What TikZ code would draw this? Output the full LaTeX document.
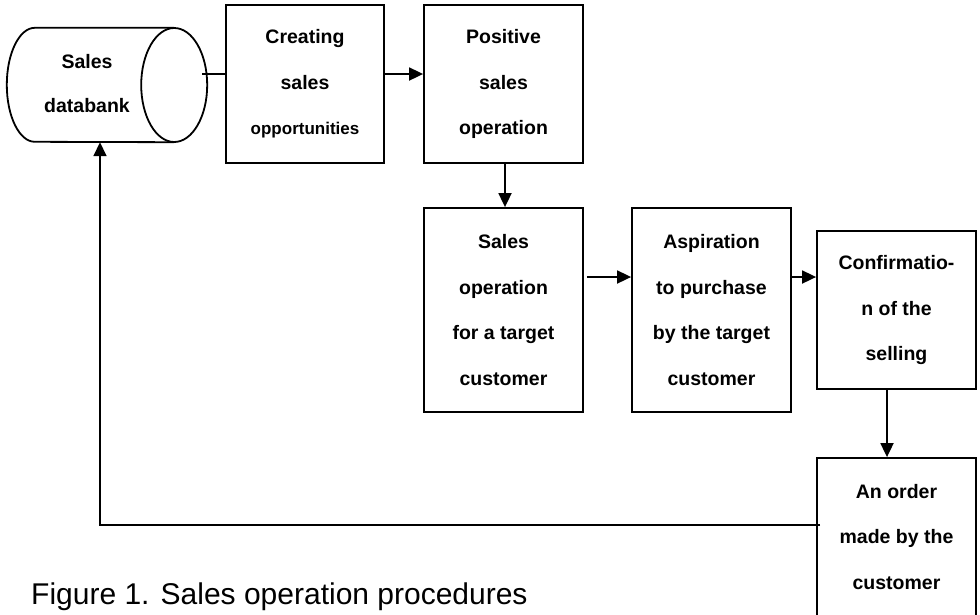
\documentclass[tikz,border=0pt]{standalone}
\usepackage{fontspec}
\setmainfont{Liberation Sans}
\usetikzlibrary{arrows.meta}
\begin{document}
\begin{tikzpicture}[x=1pt,y=-1pt,
  line/.style={line width=1.8pt},
  stepbox/.style={draw, line width=1.8pt, inner sep=0pt, minimum width=159pt},
  btext/.style={align=center, font=\bfseries\fontsize{19.5}{45.5}\selectfont},
  arr/.style={line width=1.8pt, -{Triangle[length=14pt,width=13pt]}}]
\useasboundingbox (0,0) rectangle (980,614);
\clip (0,0) rectangle (980,614);

% sales databank drawn as a lying cylinder
\node[inner sep=0pt, minimum width=139pt, minimum height=114pt] (db) at (104.5,85) {};
\draw[line] (db.north east) -- (db.north west)
  arc[start angle=270, end angle=90, x radius=28, y radius=57]
  -- (db.south east);
\draw[line] (db.east) ellipse [x radius=33, y radius=57];
\node[btext, font=\bfseries\fontsize{19.5}{44}\selectfont] (dbtext) at (87,84) {Sales\\databank};

% process boxes
\node[stepbox, minimum width=158pt, minimum height=158pt] (b1) at (305,84) {};
\node[btext] at (b1) {Creating\\sales\\{\fontsize{17}{45.5}\selectfont opportunities}};
\node[stepbox, minimum height=158pt] (b2) at (503.5,84) {};
\node[btext] at (b2) {Positive\\sales\\operation};
\node[stepbox, minimum height=204pt] (b3) at (503.5,310) {};
\node[btext] at (b3) {Sales\\operation\\for a target\\customer};
\node[stepbox, minimum height=204pt] (b4) at (711.5,310) {};
\node[btext] at (b4) {Aspiration\\to purchase\\by the target\\customer};
\node[stepbox, minimum height=158pt] (b5) at (896.5,310) {};
\node[btext] at (b5) {Confirmatio-\\n of the\\selling};
\node[stepbox, minimum height=158pt] (b6) at (896.5,537) {};
\node[btext] at (b6) {An order\\made by the\\customer};

% connectors
\coordinate (dbout) at (202,74);
\draw[line] (dbout) -- (dbout -| b1.west);
\draw[arr] ([yshift=10pt]b1.east) -- ([yshift=10pt]b2.west);
\draw[arr] ([xshift=1.5pt]b2.south) -- ([xshift=1.5pt]b3.north);
\draw[arr] ([xshift=3pt,yshift=33pt]b3.east) -- ([yshift=33pt]b4.west);
\draw[arr] ([yshift=33pt]b4.east) -- ([yshift=33pt]b5.west);
\draw[arr] ([xshift=-9.5pt]b5.south) -- ([xshift=-9.5pt]b6.north);
\coordinate (fb) at (100,525);
\draw[arr] ([xshift=4pt,yshift=12pt]b6.west) -- (fb) -- ([xshift=-4.5pt]db.south);

% caption
\node[anchor=base west, inner sep=0pt, font=\fontsize{30}{36}\selectfont] (cap) at (31,604)
  {Figure 1. Sales operation procedures};
\end{tikzpicture}
\end{document}
